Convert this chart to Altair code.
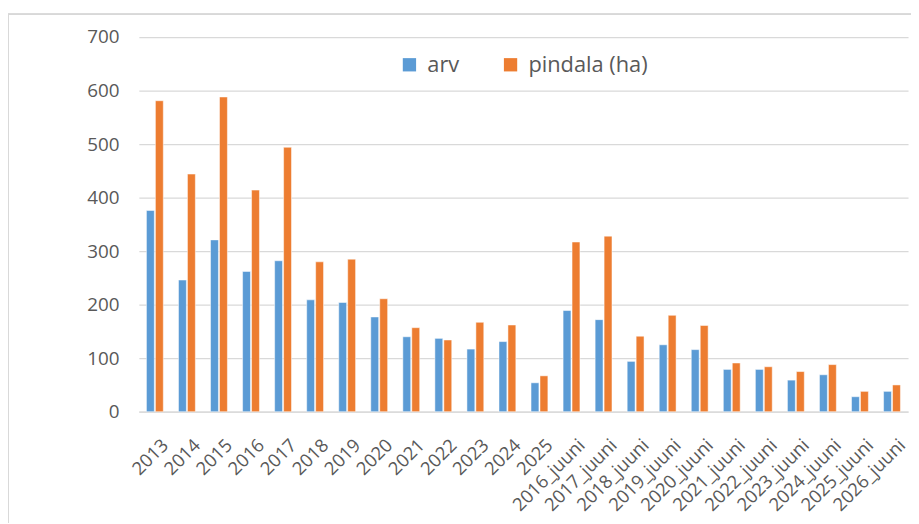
import altair as alt
import pandas as pd

categories = ["2013", "2014", "2015", "2016", "2017", "2018", "2019", "2020", "2021",
              "2022", "2023", "2024", "2025", "2016_juuni", "2017_juuni", "2018_juuni",
              "2019_juuni", "2020_juuni", "2021_juuni", "2022_juuni", "2023_juuni",
              "2024_juuni", "2025_juuni", "2026_juuni"]
arv = [376, 246, 321, 262, 282, 209, 204, 177, 140, 137, 117, 131, 54,
       189, 172, 94, 125, 116, 79, 79, 59, 69, 28, 38]
pindala = [581, 444, 588, 414, 494, 280, 285, 211, 157, 134, 167, 162, 67,
           317, 328, 141, 180, 161, 91, 84, 75, 88, 38, 50]
series = ["arv", "pindala (ha)"]
colors = ["#5B9BD5", "#ED7D31"]

rows = []
for c, a, p in zip(categories, arv, pindala):
    rows.append({"kat": c, "seeria": series[0], "v": a})
    rows.append({"kat": c, "seeria": series[1], "v": p})
df = pd.DataFrame(rows)

FONT = "Open Sans"
W, H = 776, 378

bars = alt.Chart(df).mark_bar(stroke="white", strokeWidth=1, strokeOpacity=0.5).encode(
    x=alt.X("kat:N", sort=categories, title=None,
            scale=alt.Scale(paddingInner=0.474, paddingOuter=0.237),
            axis=alt.Axis(labelAngle=-45, labelFontSize=18.5, labelColor="#595959",
                          labelFont=FONT, ticks=False, domainColor="#d9d9d9",
                          domainWidth=1.3, labelPadding=24, labelOffset=4,
                          grid=False)),
    xOffset=alt.XOffset("seeria:N", sort=series, scale=alt.Scale(paddingInner=0.12)),
    y=alt.Y("v:Q", title=None,
            scale=alt.Scale(domain=[0, 700], nice=False),
            axis=alt.Axis(values=[0, 100, 200, 300, 400, 500, 600, 700], labelFontSize=19,
                          labelColor="#595959", labelFont=FONT, ticks=False, domain=False,
                          gridColor="#d9d9d9", gridWidth=1.3, labelPadding=20)),
    color=alt.Color("seeria:N", sort=series,
                    scale=alt.Scale(domain=series, range=colors),
                    legend=alt.Legend(title=None, orient="none", legendX=262, legendY=17,
                                      direction="horizontal", symbolType="square",
                                      symbolSize=180, symbolStrokeWidth=0,
                                      labelFontSize=22, labelColor="#595959",
                                      labelFont=FONT, labelOffset=7, columnPadding=40)),
)

left_border = alt.Chart(df).mark_rule(color="#d9d9d9", strokeWidth=1).encode(
    x=alt.value(-132), y=alt.value(-23), y2=alt.value(H + 120))
top_border = alt.Chart(df).mark_rule(color="#d9d9d9", strokeWidth=1).encode(
    x=alt.value(-132), x2=alt.value(W + 20), y=alt.value(-23))

chart = alt.layer(bars, left_border, top_border).properties(
    width=W, height=H,
    autosize=alt.AutoSizeParams(type="none"),
    padding={"left": 132, "top": 27, "right": 3, "bottom": 110},
).configure(background="white").configure_view(stroke=None)

chart.save("out.html", embed_options={"renderer": "svg", "actions": False})
